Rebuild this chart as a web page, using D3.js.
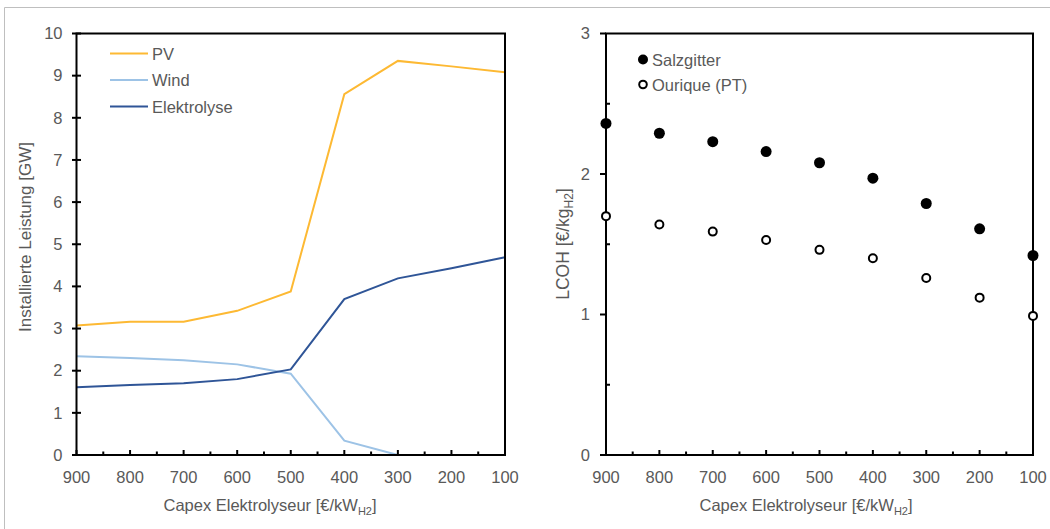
<!DOCTYPE html>
<html>
<head>
    <title>Capex Elektrolyseur</title>
    <style>
        body { margin: 0; background: #fff; }
        text { font-family: 'Liberation Sans', Arial, sans-serif; fill: #595959; }
    </style>
</head>
<body>
<div id="chart"></div>
<script src="https://cdn.jsdelivr.net/npm/d3@7"></script>
<script type="text/javascript">
// Werte
var capex = [900, 800, 700, 600, 500, 400, 300, 200, 100];
var pv = [3.07, 3.16, 3.16, 3.42, 3.88, 8.56, 9.35, 9.22, 9.08];
var wind = [2.34, 2.30, 2.25, 2.15, 1.93, 0.34, 0.0, null, null];
var elektrolyse = [1.61, 1.66, 1.70, 1.80, 2.03, 3.70, 4.19, 4.43, 4.69];
var salzgitter = [2.36, 2.29, 2.23, 2.16, 2.08, 1.97, 1.79, 1.61, 1.42];
var ourique = [1.70, 1.64, 1.59, 1.53, 1.46, 1.40, 1.26, 1.12, 0.99];
var xTicks = [900, 800, 700, 600, 500, 400, 300, 200, 100];
var xMinor = [850, 750, 650, 550, 450, 350, 250, 150];
var yTicksLeft = [0, 1, 2, 3, 4, 5, 6, 7, 8, 9, 10];
var yTicksRight = [0, 1, 2, 3];
var yMinorRight = [0.5, 1.5, 2.5];

var lineSeries = [
    {name: 'PV', values: pv, color: '#FDB933'},
    {name: 'Wind', values: wind, color: '#9DC3E6'},
    {name: 'Elektrolyse', values: elektrolyse, color: '#2F5597'}
];

var svg = d3.select('#chart')
.append('svg')
.attr('width', 1050)
.attr('height', 529);

// grauer Rahmen
svg.append('path')
.attr('d', 'M4.5,529 L4.5,7.5 L1050,7.5')
.attr('fill', 'none')
.attr('stroke', '#bfbfbf')
.attr('stroke-width', 1);

// ---------- linkes Diagramm ----------
var x1 = d3.scaleLinear().domain([900, 100]).range([76.5, 505]);
var y1 = d3.scaleLinear().domain([0, 10]).range([455, 33.5]);

var line = d3.line()
.defined(d => d.v != null)
.x(d => x1(d.x))
.y(d => y1(d.v));

lineSeries.forEach(s => {
    svg.append('path')
    .datum(capex.map((c, i) => ({x: c, v: s.values[i]})))
    .attr('d', line)
    .attr('fill', 'none')
    .attr('stroke', s.color)
    .attr('stroke-width', 2);
});

drawFrame(x1, y1);

svg.append('g')
.attr('transform', 'translate(76.5,0)')
.call(d3.axisLeft(y1).tickValues(yTicksLeft).tickSize(0).tickPadding(14))
.call(g => g.select('.domain').remove())
.call(g => g.selectAll('text').style('font-size', '16.5px').attr('fill', '#595959'));

yTicksLeft.forEach(t => {
    svg.append('line')
    .attr('x1', 72).attr('x2', 81)
    .attr('y1', y1(t)).attr('y2', y1(t))
    .attr('stroke', '#000').attr('stroke-width', 2);
});

svg.append('text')
.attr('transform', 'translate(31,237) rotate(-90)')
.style('text-anchor', 'middle')
.style('font-size', '17px')
.text('Installierte Leistung [GW]');

// Legende links
lineSeries.forEach((s, i) => {
    var ly = 53.5 + i * 26.5;
    svg.append('line')
    .attr('x1', 110).attr('x2', 148)
    .attr('y1', ly).attr('y2', ly)
    .attr('stroke', s.color).attr('stroke-width', 2);
    svg.append('text')
    .attr('x', 152).attr('y', ly + 6)
    .style('font-size', '16.5px')
    .text(s.name);
});

xTitle(270);

// ---------- rechtes Diagramm ----------
var x2 = d3.scaleLinear().domain([900, 100]).range([606, 1033]);
var y2 = d3.scaleLinear().domain([0, 3]).range([455, 33.5]);

drawFrame(x2, y2);

svg.append('g')
.attr('transform', 'translate(606,0)')
.call(d3.axisLeft(y2).tickValues(yTicksRight).tickFormat(d3.format('d')).tickSize(0).tickPadding(16))
.call(g => g.select('.domain').remove())
.call(g => g.selectAll('text').style('font-size', '16.5px').attr('fill', '#595959'));

yTicksRight.forEach(t => {
    svg.append('line')
    .attr('x1', 600).attr('x2', 606)
    .attr('y1', y2(t)).attr('y2', y2(t))
    .attr('stroke', '#000').attr('stroke-width', 2);
});
yMinorRight.forEach(t => {
    svg.append('line')
    .attr('x1', 606).attr('x2', 610)
    .attr('y1', y2(t)).attr('y2', y2(t))
    .attr('stroke', '#000').attr('stroke-width', 2);
});

var yt = svg.append('text')
.attr('transform', 'translate(569,244) rotate(-90)')
.style('text-anchor', 'middle')
.style('font-size', '17.5px');
yt.append('tspan').text('LCOH [€/kg');
yt.append('tspan').attr('dy', 4).style('font-size', '12px').text('H2');
yt.append('tspan').attr('dy', -4).text(']');

svg.selectAll('.sz')
.data(capex.map((c, i) => ({x: c, v: salzgitter[i]})))
.enter()
.append('circle')
.attr('cx', d => x2(d.x))
.attr('cy', d => y2(d.v))
.attr('r', 5.5)
.attr('fill', '#000');

svg.selectAll('.oq')
.data(capex.map((c, i) => ({x: c, v: ourique[i]})))
.enter()
.append('circle')
.attr('cx', d => x2(d.x))
.attr('cy', d => y2(d.v))
.attr('r', 4)
.attr('fill', '#fff')
.attr('stroke', '#000')
.attr('stroke-width', 2);

// Legende rechts
svg.append('circle').attr('cx', 643).attr('cy', 59.5).attr('r', 5).attr('fill', '#000');
svg.append('text').attr('x', 652).attr('y', 65.5).style('font-size', '16.5px').text('Salzgitter');
svg.append('circle').attr('cx', 643).attr('cy', 84.5).attr('r', 3.8)
.attr('fill', '#fff').attr('stroke', '#000').attr('stroke-width', 2);
svg.append('text').attr('x', 652).attr('y', 90.5).style('font-size', '16.5px').text('Ourique (PT)');

xTitle(806);

function drawFrame(xs, ys) {
    var r = xs.range(), d = ys.range();
    // Ticks unten nach innen
    xMinor.forEach(t => {
        svg.append('line')
        .attr('x1', xs(t)).attr('x2', xs(t))
        .attr('y1', d[0]).attr('y2', d[0] - 3.5)
        .attr('stroke', '#000').attr('stroke-width', 2);
    });
    xTicks.forEach(t => {
        svg.append('line')
        .attr('x1', xs(t)).attr('x2', xs(t))
        .attr('y1', d[0]).attr('y2', d[0] - 5)
        .attr('stroke', '#000').attr('stroke-width', 2);
        svg.append('text')
        .attr('x', xs(t)).attr('y', 483)
        .style('text-anchor', 'middle')
        .style('font-size', '16.5px')
        .text(t);
    });
    svg.append('rect')
    .attr('x', r[0]).attr('y', d[1])
    .attr('width', r[1] - r[0]).attr('height', d[0] - d[1])
    .attr('fill', 'none')
    .attr('stroke', '#000')
    .attr('stroke-width', 2);
}

function xTitle(cx) {
    var t = svg.append('text')
    .attr('x', cx).attr('y', 511)
    .style('text-anchor', 'middle')
    .style('font-size', '16.5px');
    t.append('tspan').text('Capex Elektrolyseur [€/kW');
    t.append('tspan').attr('dy', 4).style('font-size', '11px').text('H2');
    t.append('tspan').attr('dy', -4).text(']');
}
</script>
</body>
</html>
